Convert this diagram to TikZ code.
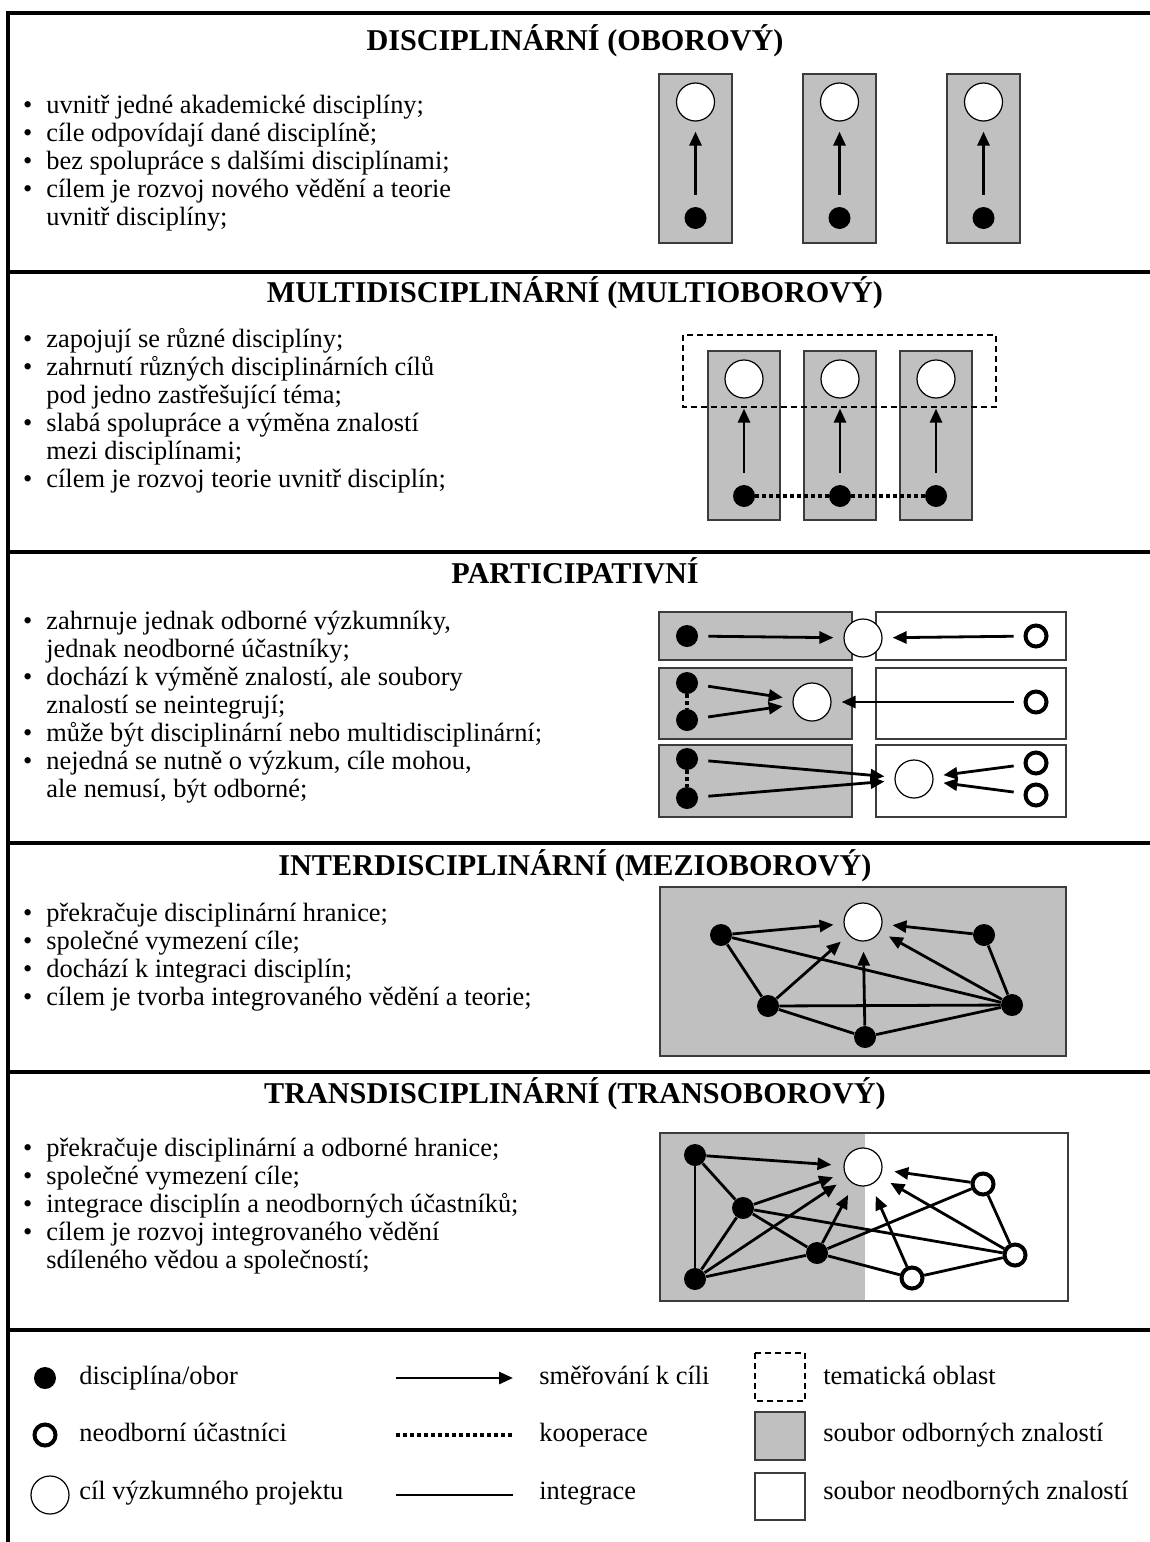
\documentclass[tikz,border=0pt]{standalone}
\usepackage{fontspec}
\setmainfont{Liberation Serif}
\usetikzlibrary{arrows.meta}

\definecolor{boxgray}{RGB}{192,192,192}
\definecolor{boxline}{RGB}{60,60,60}

\newcommand{\bl}{\makebox[0pt][r]{\textbullet\hspace{7pt}}}

\tikzset{
  seprule/.style={line width=1.6pt},
  headtxt/.style={anchor=base, inner sep=0pt, font=\fontsize{15.1}{17}\selectfont\bfseries},
  itemtxt/.style={anchor=base west, inner sep=0pt, font=\fontsize{13.2}{14}\selectfont},
  odbbox/.style={fill=boxgray, draw=boxline, line width=0.9pt},
  neodbbox/.style={fill=white, draw=boxline, line width=0.9pt},
  themebox/.style={draw=black, line width=0.6pt, dash pattern=on 3pt off 2pt},
  discnode/.style={circle, fill=black, inner sep=0pt, minimum size=11pt},
  laynode/.style={circle, draw=black, fill=white, line width=2pt, inner sep=0pt, minimum size=10.5pt},
  goalnode/.style={circle, draw=black, fill=white, line width=0.6pt, inner sep=0pt, minimum size=19pt},
  togoal/.style={line width=1.4pt, -{Triangle[length=7pt,width=6pt]}, shorten <=5pt, shorten >=5pt},
  integ/.style={line width=1.4pt},
  coop/.style={line width=1.8pt, dash pattern=on 2pt off 1.5pt}
}

\begin{document}
\begin{tikzpicture}[x=0.5pt, y=-0.5pt]
  \useasboundingbox (0,0) rectangle (1150,1542);

  % ramec a oddelovace
  \draw[seprule] (8,1542) -- (8,13) -- (1150,13);
  \foreach \y in {272,552,843,1072,1330} {
      \draw[seprule] (8,\y) -- (1150,\y);
    }

  % nadpisy
  \node[headtxt] (h1) at (575,50) {DISCIPLINÁRNÍ (OBOROVÝ)};
  \node[headtxt] (h2) at (575,302) {MULTIDISCIPLINÁRNÍ (MULTIOBOROVÝ)};
  \node[headtxt] (h3) at (575,583) {PARTICIPATIVNÍ};
  \node[headtxt] (h4) at (575,875) {INTERDISCIPLINÁRNÍ (MEZIOBOROVÝ)};
  \node[headtxt] (h5) at (575,1103) {TRANSDISCIPLINÁRNÍ (TRANSOBOROVÝ)};

  % body textu
  \foreach \n/\y/\t in {1/113/{\bl uvnitř jedné akademické disciplíny;},
      2/141/{\bl cíle odpovídají dané disciplíně;},
      3/169/{\bl bez spolupráce s dalšími disciplínami;},
      4/197/{\bl cílem je rozvoj nového vědění a teorie},
      5/225/{uvnitř disciplíny;}} {
      \node[itemtxt] (t1\n) at (46,\y) {\t};
    }
  \foreach \n/\y/\t in {1/347/{\bl zapojují se různé disciplíny;},
      2/375/{\bl zahrnutí různých disciplinárních cílů},
      3/403/{pod jedno zastřešující téma;},
      4/431/{\bl slabá spolupráce a výměna znalostí},
      5/459/{mezi disciplínami;},
      6/487/{\bl cílem je rozvoj teorie uvnitř disciplín;}} {
      \node[itemtxt] (t2\n) at (46,\y) {\t};
    }
  \foreach \n/\y/\t in {1/629/{\bl zahrnuje jednak odborné výzkumníky,},
      2/657/{jednak neodborné účastníky;},
      3/685/{\bl dochází k výměně znalostí, ale soubory},
      4/713/{znalostí se neintegrují;},
      5/741/{\bl může být disciplinární nebo multidisciplinární;},
      6/769/{\bl nejedná se nutně o výzkum, cíle mohou,},
      7/797/{ale nemusí, být odborné;}} {
      \node[itemtxt] (t3\n) at (46,\y) {\t};
    }
  \foreach \n/\y/\t in {1/921/{\bl překračuje disciplinární hranice;},
      2/949/{\bl společné vymezení cíle;},
      3/977/{\bl dochází k integraci disciplín;},
      4/1005/{\bl cílem je tvorba integrovaného vědění a teorie;}} {
      \node[itemtxt] (t4\n) at (46,\y) {\t};
    }
  \foreach \n/\y/\t in {1/1156/{\bl překračuje disciplinární a odborné hranice;},
      2/1184/{\bl společné vymezení cíle;},
      3/1212/{\bl integrace disciplín a neodborných účastníků;},
      4/1240/{\bl cílem je rozvoj integrovaného vědění},
      5/1268/{sdíleného vědou a společností;}} {
      \node[itemtxt] (t5\n) at (46,\y) {\t};
    }

  % disciplinarni
  \foreach \i/\x in {1/695.5, 2/839.5, 3/983.5} {
      \draw[odbbox] (\x-36.5,74) rectangle (\x+36.5,243);
      \node[goalnode] (dg\i) at (\x,102) {};
      \node[discnode] (dd\i) at (\x,218) {};
      \draw[togoal, shorten <=6pt] (dd\i) -- (dg\i);
    }

  % multidisciplinarni
  \foreach \i/\x in {1/744, 2/840, 3/936} {
      \draw[odbbox] (\x-36,351) rectangle (\x+36,520);
      \node[goalnode] (mg\i) at (\x,379) {};
      \node[discnode] (md\i) at (\x,496) {};
      \draw[togoal, shorten <=6pt] (md\i) -- (mg\i);
    }
  \draw[themebox] (683,335) rectangle (996,407);
  \draw[coop] (md1) -- (md2) -- (md3);

  % participativni
  \foreach \a/\b in {612/660, 668/739, 745/817} {
      \draw[odbbox] (659,\a) rectangle (852,\b);
      \draw[neodbbox] (876,\a) rectangle (1066,\b);
    }
  \node[discnode] (pa1) at (687,636) {};
  \node[goalnode] (pg1) at (863,638) {};
  \node[laynode] (pl1) at (1036,636) {};
  \draw[togoal] (pa1) -- (pg1);
  \draw[togoal] (pl1) -- (pg1);

  \node[discnode] (pa2) at (687,683) {};
  \node[discnode] (pb2) at (687,720) {};
  \node[goalnode] (pg2) at (812,702) {};
  \node[laynode] (pl2) at (1036,702) {};
  \draw[coop] (pa2) -- (pb2);
  \draw[togoal] (pa2) -- (pg2);
  \draw[togoal] (pb2) -- (pg2);
  \draw[togoal] (pl2) -- (pg2);

  \node[discnode] (pa3) at (687,759) {};
  \node[discnode] (pb3) at (687,798) {};
  \node[goalnode] (pg3) at (914,779) {};
  \node[laynode] (pl3) at (1036,763) {};
  \node[laynode] (pm3) at (1036,795) {};
  \draw[coop] (pa3) -- (pb3);
  \draw[togoal] (pa3) -- (pg3);
  \draw[togoal] (pb3) -- (pg3);
  \draw[togoal] (pl3) -- (pg3);
  \draw[togoal] (pm3) -- (pg3);

  % interdisciplinarni
  \draw[odbbox] (660,887) rectangle (1066,1056);
  \node[goalnode] (ig) at (863,922) {};
  \node[discnode] (ia) at (721,935) {};
  \node[discnode] (ib) at (984,935) {};
  \node[discnode] (ic) at (768,1006) {};
  \node[discnode] (id) at (1012,1005) {};
  \node[discnode] (ie) at (865,1037) {};
  \foreach \u/\v in {ia/ic, ia/id, ib/id, ic/id, ic/ie, ie/id} {
      \draw[integ] (\u) -- (\v);
    }
  \foreach \u in {ia, ib, ic, id, ie} {
      \draw[togoal, shorten <=0pt] (\u) -- (ig);
    }

  % transdisciplinarni
  \fill[boxgray] (660,1133) rectangle (865,1301);
  \draw[boxline, line width=0.9pt] (660,1133) rectangle (1068,1301);
  \node[goalnode] (tg) at (863,1167) {};
  \node[discnode] (ta) at (695,1155) {};
  \node[discnode] (tb) at (743,1208) {};
  \node[discnode] (tc) at (695,1279) {};
  \node[discnode] (td) at (817,1253) {};
  \node[laynode] (tl) at (983,1184) {};
  \node[laynode] (tm) at (1015,1255) {};
  \node[laynode] (tn) at (912,1278) {};
  \foreach \u/\v in {ta/tb, ta/tc, tb/tc, tb/td, tb/tm, tc/td, td/tl, td/tn, tn/tm, tl/tm} {
      \draw[integ] (\u) -- (\v);
    }
  \foreach \u in {ta, tb, tc, td, tl, tm, tn} {
      \draw[togoal, shorten <=0pt, shorten >=6pt] (\u) -- (tg);
    }

  % legenda
  \node[discnode] (ld) at (45,1378) {};
  \node[laynode] (ll) at (45,1435) {};
  \node[goalnode] (lg) at (50,1495) {};
  \node[itemtxt] (ltd) at (79,1384) {disciplína/obor};
  \node[itemtxt] (ltl) at (79,1441) {neodborní účastníci};
  \node[itemtxt] (ltg) at (79,1499) {cíl výzkumného projektu};

  \coordinate (la1) at (396,1378);
  \coordinate (la2) at (513,1378);
  \coordinate (lb1) at (396,1435);
  \coordinate (lb2) at (513,1435);
  \coordinate (lc1) at (396,1495);
  \coordinate (lc2) at (513,1495);
  \draw[togoal, shorten <=0pt, shorten >=0pt] (la1) -- (la2);
  \draw[coop] (lb1) -- (lb2);
  \draw[integ] (lc1) -- (lc2);
  \node[itemtxt] (lta) at (539,1384) {směřování k cíli};
  \node[itemtxt] (ltb) at (539,1441) {kooperace};
  \node[itemtxt] (ltc) at (539,1499) {integrace};

  \draw[themebox] (755,1353) rectangle (805,1401);
  \draw[odbbox] (755,1412) rectangle (805,1460);
  \draw[neodbbox] (755,1473) rectangle (805,1520);
  \node[itemtxt] (ltt) at (823,1384) {tematická oblast};
  \node[itemtxt] (lto) at (823,1441) {soubor odborných znalostí};
  \node[itemtxt] (ltn) at (823,1499) {soubor neodborných znalostí};
\end{tikzpicture}
\end{document}
